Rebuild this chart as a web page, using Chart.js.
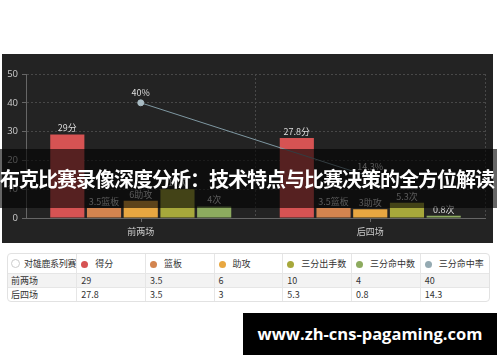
<!DOCTYPE html>
<html>
<head>
<meta charset="utf-8">
<script src="https://cdn.jsdelivr.net/npm/chart.js@4"></script>
<style>
  body { margin: 0; width: 500px; height: 362px; background: #fff; position: relative; overflow: hidden;
         font-family: "Noto Sans CJK SC", "Noto Sans", sans-serif; }
  #panel { position: absolute; left: 2px; top: 54px; width: 491px; height: 189px; background: #232323; }
  #wrap { position: absolute; left: 7px; top: 253px; width: 481px; border: 1px solid #e2e2e2; border-radius: 4px; overflow: hidden; }
  table { border-collapse: collapse; width: 100%; font-size: 9px; color: #333; table-layout: fixed; }
  td { border-left: 1px solid #e6e6e6; padding: 0 4px; white-space: nowrap; overflow: hidden; }
  td:first-child { border-left: none; padding-left: 3px; padding-right: 0; }
  tr.head td { height: 19px; }
  tr.row td { height: 13px; border-top: 1px solid #e6e6e6; }
  tr.odd { background: #f3f3f3; }
  .dot { display: inline-block; width: 7px; height: 7px; border-radius: 50%; margin-right: 7px; vertical-align: -1px; }
  .plus { display: inline-block; width: 7px; height: 7px; border-radius: 50%; border: 1px solid #ccc; margin-right: 4px; vertical-align: -1px; }
  .corner { letter-spacing: -0.3px; }
  #band { position: absolute; left: 0; top: 149px; width: 497px; height: 59px; background: rgba(0,0,0,0.6);
          color: #fff; font-weight: bold; font-size: 20px; line-height: 59px; white-space: nowrap; letter-spacing: -1px; }
  #mark { position: absolute; left: 243px; top: 313px; width: 254px; height: 42px; background: #000; color: #fff;
          font: bold 16.5px "Open Sans", sans-serif; line-height: 42px; text-align: center; }
</style>
</head>
<body>
<div id="panel"><canvas id="c" width="491" height="189"></canvas></div>
<div id="wrap"><table id="tbl"></table></div>
<div id="band">布克比赛录像深度分析：技术特点与比赛决策的全方位解读</div>
<div id="mark">www.zh-cns-pagaming.com</div>
<script>
// ---------- data ----------
var categories = ['前两场', '后四场'];
var seriesNames = ['得分', '篮板', '助攻', '三分出手数', '三分命中数', '三分命中率'];
var seriesUnits = ['分', '篮板', '助攻', '次', '次', '%'];
var seriesColors = ['#d65353', '#d3844f', '#e8a741', '#a7a83b', '#8dab5f', '#95aab2'];
var scoreValues = [29, 27.8];
var reboundValues = [3.5, 3.5];
var assistValues = [6, 3];
var threeAttemptValues = [10, 5.3];
var threeMadeValues = [4, 0.8];
var threePctValues = [40, 14.3];
var yTicks = [0, 10, 20, 30, 40, 50];
var tableCorner = '对雄鹿系列赛';

var allValues = [scoreValues, reboundValues, assistValues, threeAttemptValues, threeMadeValues, threePctValues];

// ---------- table ----------
var tbl = document.getElementById('tbl');
var html = '<tr class="head"><td><span class="plus"></span><span class="corner">' + tableCorner + '</span></td>';
for (var i = 0; i < seriesNames.length; i++) {
    html += '<td><span class="dot" style="background:' + seriesColors[i] + '"></span>' + seriesNames[i] + '</td>';
}
html += '</tr>';
for (var r = 0; r < categories.length; r++) {
    html += '<tr class="row' + (r % 2 == 0 ? ' odd' : '') + '"><td>' + categories[r] + '</td>';
    for (var s = 0; s < allValues.length; s++) html += '<td>' + allValues[s][r] + '</td>';
    html += '</tr>';
}
tbl.innerHTML = html;

// ---------- chart ----------
var datasets = [];
for (var k = 0; k < 5; k++) {
    datasets.push({
        type: 'bar', label: seriesNames[k], data: allValues[k], unit: seriesUnits[k],
        backgroundColor: seriesColors[k], borderWidth: 0,
        categoryPercentage: 0.8, barPercentage: 0.93, order: 2
    });
}
datasets.push({
    type: 'line', label: seriesNames[5], data: threePctValues, unit: seriesUnits[5],
    borderColor: '#7f98a2', borderWidth: 1, pointRadius: 3, pointBackgroundColor: '#a9bcc4',
    pointBorderColor: '#a9bcc4', order: 1
});

// value labels above each mark
var valueLabels = {
    id: 'valueLabels',
    afterDatasetsDraw: function (chart) {
        var ctx = chart.ctx;
        ctx.save();
        ctx.font = '9px "Noto Sans CJK SC", sans-serif';
        ctx.fillStyle = '#dddddd';
        ctx.textAlign = 'center';
        ctx.textBaseline = 'bottom';
        chart.data.datasets.forEach(function (ds, i) {
            chart.getDatasetMeta(i).data.forEach(function (el, j) {
                var off = ds.type == 'line' ? 6 : 2;
                ctx.fillText(ds.data[j] + ds.unit, el.x, el.y - off);
            });
        });
        // small ticks under category centers
        var xs = chart.scales.x;
        ctx.strokeStyle = '#666';
        ctx.lineWidth = 1;
        categories.forEach(function (c, j) {
            var px = Math.round(xs.getPixelForValue(j)) + 0.5;
            ctx.beginPath();
            ctx.moveTo(px, xs.top);
            ctx.lineTo(px, xs.top + 4);
            ctx.stroke();
        });
        ctx.restore();
    }
};

new Chart(document.getElementById('c'), {
    data: { labels: categories, datasets: datasets },
    options: {
        responsive: false,
        animation: false,
        layout: { padding: { top: 20, right: 8, left: 0, bottom: 0 } },
        plugins: { legend: { display: false }, tooltip: { enabled: false } },
        scales: {
            x: {
                offset: true,
                grid: { offset: true, color: '#484848', lineWidth: 1, drawTicks: false },
                border: { display: true, color: '#666', dash: [2, 2] },
                ticks: { color: '#cccccc', font: { size: 9, family: '"Noto Sans CJK SC", sans-serif' }, padding: 8 },
                afterFit: function (scale) { scale.height = 25; }
            },
            y: {
                min: 0, max: 50,
                afterBuildTicks: function (scale) { scale.ticks = yTicks.map(function (v) { return { value: v }; }); },
                grid: { color: '#484848', tickLength: 4, drawTicks: true, tickColor: '#666' },
                border: { display: true, color: '#666', dash: [2, 2] },
                ticks: { color: '#cccccc', font: { size: 9.5, family: '"Open Sans", sans-serif' }, padding: 4 },
                afterFit: function (scale) { scale.width = 24; }
            }
        }
    },
    plugins: [valueLabels]
});
</script>
</body>
</html>
